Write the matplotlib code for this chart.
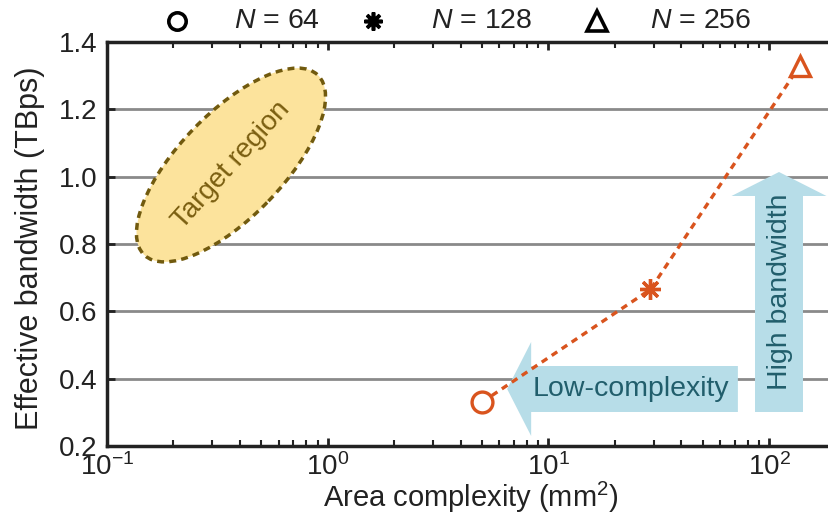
import matplotlib
matplotlib.use("Agg")
import matplotlib.pyplot as plt
from matplotlib.patches import Ellipse, FancyArrow
from matplotlib.lines import Line2D
from matplotlib.transforms import ScaledTranslation

plt.rcParams['font.family'] = ['Liberation Sans', 'DejaVu Sans']
plt.rcParams['mathtext.fontset'] = 'custom'
plt.rcParams['mathtext.it'] = 'Liberation Sans:italic'
plt.rcParams['mathtext.rm'] = 'Liberation Sans'

# data
labels = ['64', '128', '256']
markers = ['o', (8, 2, 0), '^']
area = [5.0, 29.0, 138.0]
bandwidth = [0.33, 0.665, 1.33]
yticks = [0.2, 0.4, 0.6, 0.8, 1.0, 1.2, 1.4]

orange = '#D9541E'
W, H = 829, 516
fig = plt.figure(figsize=(W/100, H/100), dpi=100)
ax = fig.add_axes([107/W, (H-446)/H, (828-107)/W, (446-42)/H])

ax.set_xscale('log')
ax.set_xlim(0.1, 10**(-1 + 721/220.67))
ax.set_ylim(0.2, 1.4)
ax.set_yticks(yticks)
ax.set_yticklabels([f'{v:.1f}' for v in yticks])
for v in yticks[1:-1]:
    ax.axhline(v, color='#8a8a8a', lw=2.0, zorder=0)

fs = 20
ax.tick_params(axis='both', which='major', direction='in', length=6, width=2, labelsize=fs,
               top=True, right=False, color='#222222', labelcolor='#222222')
ax.tick_params(axis='x', which='minor', direction='in', length=4, width=1.5, top=True, color='#222222')
ax.tick_params(axis='y', which='major', pad=7)
ax.tick_params(axis='x', which='major', pad=5)
for s in ['left', 'bottom', 'top']:
    ax.spines[s].set_linewidth(2.5)
    ax.spines[s].set_color('#222222')
ax.spines['right'].set_visible(False)

ax.set_xlabel('Area complexity (mm$^2$)', fontsize=21, color='#222222')
ax.xaxis.label.set_verticalalignment('baseline')
ax.xaxis.set_label_coords((471-107)/721, (446-507)/404)
ax.set_ylabel('Effective bandwidth (TBps)', fontsize=22, color='#222222')
ax.yaxis.label.set_verticalalignment('center')
ax.yaxis.set_label_coords((30-107)/721, (446-248)/404)

# target region ellipse (pixel-sized, positioned in axes fraction)
cx, cy = (231-107)/721, (446-165)/404
tr = fig.dpi_scale_trans + ScaledTranslation(cx, cy, ax.transAxes)
ell = Ellipse((0, 0), width=2.5, height=1.04, angle=46, transform=tr,
              facecolor='#FCE39C', edgecolor='#715A0E', lw=2.5, linestyle=(0, (2, 1.5)), zorder=2)
ax.add_patch(ell)
ax.text(cx, cy, 'Target region', transform=ax.transAxes, rotation=48,
        ha='center', va='center', fontsize=20, color='#7A5E10', zorder=3)

# arrows
blue = '#B7DDE8'
ax.add_patch(FancyArrow(0.875, (446-389)/404, -0.320, 0, width=46/404, head_width=94/404,
                        head_length=24/721, length_includes_head=True, transform=ax.transAxes,
                        color=blue, lw=0, zorder=1))
ax.add_patch(FancyArrow((779-107)/721, (446-412)/404, 0, (412-172)/404, width=48/721,
                        head_width=95/721, head_length=24/404, length_includes_head=True,
                        transform=ax.transAxes, color=blue, lw=0, zorder=1))
ax.text((631-107)/721, (446-389)/404, 'Low-complexity', transform=ax.transAxes, ha='center',
        va='center', fontsize=20.5, color='#215E6C', zorder=2)
ax.text((780-107)/721, (446-292)/404, 'High bandwidth', transform=ax.transAxes, ha='center',
        va='center', rotation=90, fontsize=20.5, color='#215E6C', zorder=2)

# data line and markers
ax.plot(area, bandwidth, color=orange, lw=2.4, linestyle=(0, (2, 1.6)), zorder=4)
for xv, yv, m in zip(area, bandwidth, markers):
    ax.plot([xv], [yv], marker=m, markersize=15,
            markerfacecolor='white', markeredgecolor=orange, markeredgewidth=2.4,
            linestyle='none', zorder=5)

# legend (manual, above the axes)
leg_marker_x = [177, 373, 597]
leg_marker_size = [12.5, 13, 14]
leg_text_cx = [277, 482, 701]
leg_y = 21
for mx, tx, m, ms, lab in zip(leg_marker_x, leg_text_cx, markers, leg_marker_size, labels):
    fig.add_artist(Line2D([mx/W], [1 - leg_y/H], transform=fig.transFigure, marker=m,
                          color='black', markerfacecolor='none', markeredgewidth=2.6,
                          markersize=ms, linestyle='none'))
    fig.text(tx/W, 1 - leg_y/H, r'$N$ = ' + lab, ha='center', va='center', fontsize=20.5,
             color='#222222')

fig.savefig('out.png', dpi=100)
